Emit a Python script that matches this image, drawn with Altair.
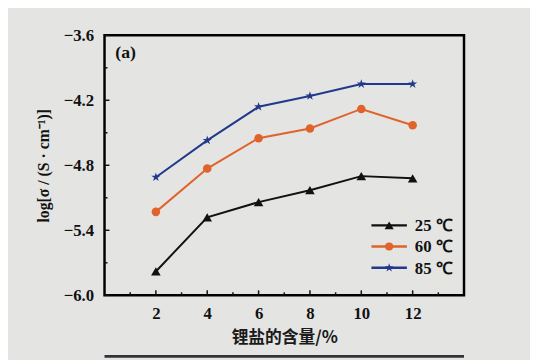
import altair as alt
import pandas as pd

# ---- data ----
x_vals = [2, 4, 6, 8, 10, 12]
s25 = [-5.78, -5.28, -5.14, -5.03, -4.90, -4.92]
s60 = [-5.23, -4.83, -4.55, -4.46, -4.28, -4.43]
s85 = [-4.91, -4.57, -4.26, -4.16, -4.05, -4.05]
series = ["25 ℃", "60 ℃", "85 ℃"]
colors = ["#111111", "#e0632b", "#22388c"]
x_major = [2, 4, 6, 8, 10, 12]
x_minor = [1, 3, 5, 7, 9, 11, 13]
y_major = [-3.6, -4.2, -4.8, -5.4, -6.0]
y_minor = [-3.9, -4.5, -5.1, -5.7]

STAR = ("M0,-1L0.2245,-0.309L0.951,-0.309L0.363,0.118L0.588,0.809L0,0.382"
        "L-0.588,0.809L-0.363,0.118L-0.951,-0.309L-0.2245,-0.309Z")
shapes = ["triangle-up", "circle", STAR]
sizes = [95, 75, 95]

rows = []
for name, vals in zip(series, [s25, s60, s85]):
    for x, v in zip(x_vals, vals):
        rows.append({"x": x, "v": v, "s": name})
df = pd.DataFrame(rows)

W, H = 365, 264
BG = "#e4e4e2"
SERIF = "Liberation Serif, Times New Roman, serif"

xs = alt.Scale(domain=[0, 14], nice=False, zero=False)
ys = alt.Scale(domain=[-6.0, -3.6], nice=False, zero=False)
col = alt.Scale(domain=series, range=colors)

X = alt.X("x:Q", scale=xs, axis=alt.Axis(
    values=x_major, format="d", ticks=False, grid=False, domain=False,
    labelFont=SERIF, labelFontSize=17, labelFontWeight="bold", labelColor="#111",
    labelPadding=11, title="锂盐的含量/%", titleFont="Noto Sans CJK SC",
    titleFontSize=17, titleFontWeight="bold", titleColor="#1a1a1a", titlePadding=8))
Y = alt.Y("v:Q", scale=ys, axis=alt.Axis(
    values=y_major, format=".1f", ticks=False, grid=False, domain=False,
    labelFont=SERIF, labelFontSize=17, labelFontWeight="bold", labelColor="#111",
    labelPadding=11, title="log[σ / (S · cm⁻¹)]", titleFont=SERIF,
    titleFontSize=16, titleFontWeight="bold", titleColor="#111",
    titleAngle=270, titleX=-62, titleY=H / 2, titleAlign="center",
    titleBaseline="middle"))

lines = alt.Chart(df).mark_line(strokeWidth=2).encode(
    x=X, y=Y, color=alt.Color("s:N", scale=col, legend=None), detail="s:N")

pts = []
for name, c, sh, sz in zip(series, colors, shapes, sizes):
    pts.append(alt.Chart(df[df.s == name]).mark_point(
        filled=True, shape=sh, size=sz, color=c, opacity=1).encode(
        x=alt.X("x:Q", scale=xs), y=alt.Y("v:Q", scale=ys)))

# inward ticks
xt_major = alt.Chart(pd.DataFrame({"t": x_major})).mark_rule(color="#111", strokeWidth=1.5).encode(
    x=alt.X("t:Q", scale=xs), y=alt.value(H), y2=alt.value(H - 5))
xt_minor = alt.Chart(pd.DataFrame({"t": x_minor})).mark_rule(color="#111", strokeWidth=1.5).encode(
    x=alt.X("t:Q", scale=xs), y=alt.value(H), y2=alt.value(H - 3))
yt_major = alt.Chart(pd.DataFrame({"t": y_major})).mark_rule(color="#111", strokeWidth=1.5).encode(
    y=alt.Y("t:Q", scale=ys), x=alt.value(0), x2=alt.value(5))
yt_minor = alt.Chart(pd.DataFrame({"t": y_minor})).mark_rule(color="#111", strokeWidth=1.5).encode(
    y=alt.Y("t:Q", scale=ys), x=alt.value(0), x2=alt.value(3))

one = pd.DataFrame({"a": [1]})
panel = alt.Chart(one).mark_text(text="(a)", font=SERIF, fontSize=18, fontWeight="bold",
                                 color="#111", align="left", baseline="middle").encode(
    x=alt.value(11), y=alt.value(18))

leg = []
for i, (name, c, sh, sz) in enumerate(zip(series, colors, shapes, sizes)):
    yy = 193 + i * 21.5
    leg.append(alt.Chart(one).mark_rule(color=c, strokeWidth=2.5).encode(
        x=alt.value(271), x2=alt.value(307), y=alt.value(yy)))
    leg.append(alt.Chart(one).mark_point(filled=True, shape=sh, size=sz * 0.9, color=c, opacity=1).encode(
        x=alt.value(289), y=alt.value(yy)))
    leg.append(alt.Chart(one).mark_text(text=name, font=SERIF, fontSize=17, fontWeight="bold",
                                        color="#111", align="left", baseline="middle").encode(
        x=alt.value(315), y=alt.value(yy + 1)))

bottom_rule = alt.Chart(one).mark_rule(color="#333", strokeWidth=3, clip=False).encode(
    x=alt.value(0), x2=alt.value(W), y=alt.value(H + 62))

chart = alt.layer(lines, *pts, xt_major, xt_minor, yt_major, yt_minor, panel, *leg,
                  bottom_rule).properties(
    width=W, height=H,
    autosize=alt.AutoSizeParams(type="none"),
    padding={"left": 98, "top": 25, "right": 67, "bottom": 63},
    background=BG,
).configure_view(stroke="#000", strokeWidth=2.5, fill=BG)

chart.save("out.html", embed_options={"renderer": "svg", "actions": False})
